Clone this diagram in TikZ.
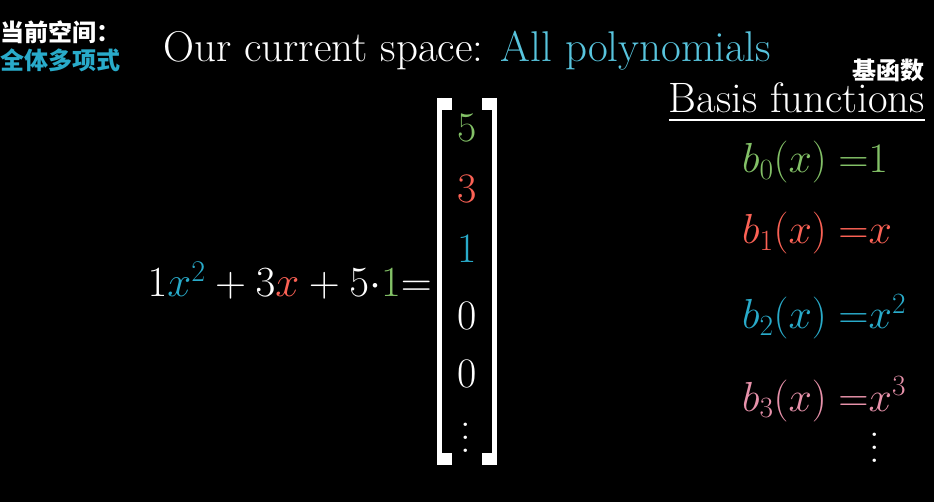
\RequirePackage{fix-cm}
\documentclass[tikz,border=0pt]{standalone}
\usepackage{amsmath}
\usepackage{fontspec}
\usetikzlibrary{positioning}
\newfontfamily\cjkfont{Noto Sans CJK SC}
\definecolor{polygreen}{HTML}{83C167}
\definecolor{polyred}{HTML}{FC6255}
\definecolor{polyblue}{HTML}{29ABCA}
\definecolor{titleblue}{HTML}{58C4DD}
\definecolor{polypink}{HTML}{E892AB}
\newcommand{\bigsize}{\fontsize{42}{50}\selectfont}
\newcommand{\bigvdots}{\vbox{\baselineskip=13pt\lineskiplimit=0pt\hbox{.}\hbox{.}\hbox{.}}}
\tikzset{
  txt/.style={inner sep=0pt,text=white,font=\bigsize},
  cjklabel/.style={inner sep=0pt,text=white,font=\cjkfont\bfseries\fontsize{24}{28}\selectfont},
  entry/.style={txt,anchor=base},
  basisrow/.style={txt,anchor=base west},
  bracket/.style={draw=white,line width=5pt},
  corner/.style={fill=white},
}
\begin{document}
\begin{tikzpicture}[x=1pt,y=-1pt]
      \fill[black] (0,0) rectangle (934,502);
      \useasboundingbox (0,0) rectangle (934,502);
      % header
      \node[cjklabel,anchor=base west] (curcn) at (0,42) {当前空间：};
      \node[cjklabel,anchor=base west,text=polyblue] (allcn) at (0,70) {全体多项式};
      \node[txt,anchor=base west,font=\fontsize{43}{50}\selectfont] (title) at (163,62) {Our current space: \textcolor{titleblue}{All polynomials}};
      \node[cjklabel,anchor=base east] (basiscn) at (925,80) {基函数};
      \node[txt,anchor=base east,font=\fontsize{42.5}{50}\selectfont] (basis) at (925,113) {Basis functions};
      \draw[white,line width=2pt] ([yshift=-7pt]basis.base west) -- ([yshift=-7pt]basis.base east);
      % polynomial
      \node[txt,anchor=base east,font=\fontsize{43}{50}\selectfont] (poly) at (432,297) {$1{\color{polyblue}x^2}+3{\color{polyred}x}+5{\cdot}{\color{polygreen}1}{=}$};
      % vector
      \coordinate (ltop) at (439,98);  \coordinate (lbot) at (439,465);
      \coordinate (rtop) at (494,98);  \coordinate (rbot) at (494,465);
      \draw[bracket] (ltop) -- (lbot);
      \draw[bracket] (rtop) -- (rbot);
      \fill[corner] (437,98) rectangle (452,110);
      \fill[corner] (437,453) rectangle (452,465);
      \fill[corner] (482,98) rectangle (497,110);
      \fill[corner] (482,453) rectangle (497,465);
      \node[entry,text=polygreen] (e0) at (467,142) {5};
      \node[entry,text=polyred] (e1) at (467,203) {3};
      \node[entry,text=polyblue] (e2) at (467,263) {1};
      \node[entry] (e3) at (467,330) {0};
      \node[entry] (e4) at (467,387) {0};
      \node[txt] (edots) at (466,438) {\bigvdots};
      % basis functions
      \node[basisrow,text=polygreen] (b0) at (742,173) {$b_0(x)\;{=}1$};
      \node[basisrow,text=polyred] (b1) at (742,244) {$b_1(x)\;{=}x$};
      \node[basisrow,text=polyblue] (b2) at (742,329) {$b_2(x)\;{=}x^2$};
      \node[basisrow,text=polypink] (b3) at (742,411) {$b_3(x)\;{=}x^3$};
      \node[txt] (bdots) at (875,448) {\bigvdots};
    \end{tikzpicture}
\end{document}
